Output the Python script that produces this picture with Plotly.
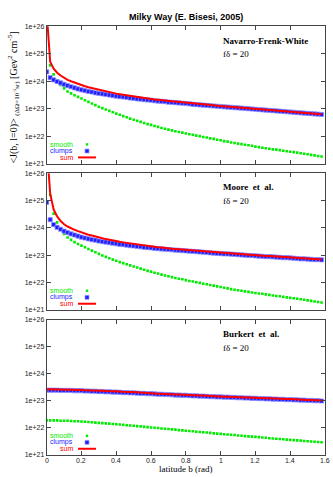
import plotly.graph_objects as go

W, H = 333, 477

# galactic latitude grid (rad)
b = [0.00, 0.02, 0.04, 0.06, 0.08, 0.10, 0.12, 0.14, 0.16, 0.18,
     0.20, 0.22, 0.24, 0.26, 0.28, 0.30, 0.32, 0.34, 0.36, 0.38,
     0.40, 0.42, 0.44, 0.46, 0.48, 0.50, 0.52, 0.54, 0.56, 0.58,
     0.60, 0.62, 0.64, 0.66, 0.68, 0.70, 0.72, 0.74, 0.76, 0.78,
     0.80, 0.82, 0.84, 0.86, 0.88, 0.90, 0.92, 0.94, 0.96, 0.98,
     1.00, 1.02, 1.04, 1.06, 1.08, 1.10, 1.12, 1.14, 1.16, 1.18,
     1.20, 1.22, 1.24, 1.26, 1.28, 1.30, 1.32, 1.34, 1.36, 1.38,
     1.40, 1.42, 1.44, 1.46, 1.48, 1.50, 1.52, 1.54, 1.56, 1.58]

# log10 of <J> (None = above the frame)
nfw_smooth_log = [None, 24.58, 24.25, 24.03, 23.87, 23.74, 23.63, 23.56, 23.49, 23.43,
                  23.37, 23.31, 23.25, 23.19, 23.13, 23.07, 23.02, 22.97, 22.92, 22.87,
                  22.82, 22.78, 22.73, 22.69, 22.64, 22.60, 22.56, 22.52, 22.48, 22.44,
                  22.41, 22.37, 22.34, 22.30, 22.27, 22.24, 22.21, 22.18, 22.15, 22.13,
                  22.10, 22.07, 22.05, 22.02, 22.00, 21.97, 21.95, 21.92, 21.90, 21.87,
                  21.85, 21.82, 21.80, 21.77, 21.75, 21.73, 21.71, 21.69, 21.67, 21.65,
                  21.62, 21.60, 21.58, 21.56, 21.54, 21.52, 21.51, 21.49, 21.47, 21.45,
                  21.43, 21.42, 21.40, 21.38, 21.36, 21.34, 21.32, 21.30, 21.28, 21.26]
nfw_clumps_log = [24.34, 24.13, 24.05, 23.99, 23.94, 23.89, 23.84, 23.80, 23.76, 23.72,
                  23.69, 23.66, 23.63, 23.61, 23.58, 23.56, 23.54, 23.52, 23.50, 23.48,
                  23.46, 23.44, 23.43, 23.41, 23.39, 23.38, 23.36, 23.35, 23.33, 23.32,
                  23.31, 23.29, 23.28, 23.27, 23.26, 23.24, 23.23, 23.22, 23.21, 23.20,
                  23.19, 23.18, 23.16, 23.15, 23.14, 23.13, 23.12, 23.11, 23.10, 23.09,
                  23.08, 23.07, 23.06, 23.05, 23.04, 23.03, 23.02, 23.01, 23.00, 22.99,
                  22.98, 22.97, 22.96, 22.95, 22.94, 22.93, 22.92, 22.91, 22.90, 22.89,
                  22.88, 22.87, 22.86, 22.85, 22.84, 22.83, 22.82, 22.81, 22.80, 22.79]
nfw_sum_log = [26.50, 24.71, 24.46, 24.31, 24.21, 24.12, 24.05, 24.00, 23.95, 23.90,
               23.86, 23.82, 23.78, 23.75, 23.71, 23.68, 23.66, 23.63, 23.60, 23.58,
               23.55, 23.53, 23.51, 23.49, 23.46, 23.45, 23.42, 23.41, 23.39, 23.37,
               23.36, 23.34, 23.33, 23.31, 23.30, 23.28, 23.27, 23.26, 23.25, 23.23,
               23.22, 23.21, 23.19, 23.18, 23.17, 23.16, 23.15, 23.14, 23.13, 23.11,
               23.10, 23.09, 23.08, 23.07, 23.06, 23.05, 23.04, 23.03, 23.02, 23.01,
               23.00, 22.99, 22.98, 22.97, 22.96, 22.95, 22.94, 22.93, 22.91, 22.91,
               22.90, 22.89, 22.87, 22.87, 22.85, 22.85, 22.83, 22.82, 22.81, 22.80]

moore_smooth_log = [None, 25.20, 24.52, 24.20, 23.94, 23.78, 23.65, 23.56, 23.48, 23.41,
                    23.35, 23.29, 23.23, 23.17, 23.11, 23.05, 22.99, 22.94, 22.89, 22.84,
                    22.80, 22.75, 22.71, 22.67, 22.63, 22.59, 22.55, 22.51, 22.47, 22.43,
                    22.40, 22.36, 22.33, 22.29, 22.26, 22.23, 22.20, 22.17, 22.14, 22.12,
                    22.09, 22.06, 22.04, 22.01, 21.99, 21.96, 21.94, 21.91, 21.89, 21.86,
                    21.84, 21.81, 21.79, 21.76, 21.74, 21.72, 21.70, 21.68, 21.66, 21.64,
                    21.62, 21.60, 21.59, 21.57, 21.55, 21.53, 21.51, 21.50, 21.48, 21.46,
                    21.44, 21.43, 21.41, 21.39, 21.37, 21.35, 21.33, 21.31, 21.29, 21.27]
moore_clumps_log = [24.93, 24.30, 24.12, 24.02, 23.95, 23.88, 23.83, 23.78, 23.74, 23.70,
                    23.66, 23.63, 23.60, 23.57, 23.55, 23.52, 23.50, 23.48, 23.46, 23.44,
                    23.42, 23.40, 23.39, 23.37, 23.35, 23.34, 23.32, 23.31, 23.29, 23.28,
                    23.27, 23.25, 23.24, 23.23, 23.22, 23.21, 23.20, 23.19, 23.18, 23.17,
                    23.16, 23.15, 23.14, 23.13, 23.12, 23.11, 23.10, 23.09, 23.08, 23.07,
                    23.06, 23.05, 23.05, 23.04, 23.03, 23.02, 23.01, 23.00, 22.99, 22.99,
                    22.98, 22.97, 22.96, 22.95, 22.95, 22.94, 22.93, 22.92, 22.91, 22.91,
                    22.90, 22.89, 22.88, 22.87, 22.87, 22.86, 22.85, 22.84, 22.84, 22.83]
moore_sum_log = [27.00, 25.25, 24.67, 24.42, 24.25, 24.13, 24.05, 23.98, 23.93, 23.88,
                 23.83, 23.79, 23.75, 23.72, 23.68, 23.65, 23.62, 23.59, 23.56, 23.54,
                 23.51, 23.49, 23.47, 23.45, 23.43, 23.41, 23.39, 23.37, 23.35, 23.34,
                 23.32, 23.30, 23.29, 23.28, 23.26, 23.25, 23.24, 23.23, 23.22, 23.21,
                 23.20, 23.18, 23.17, 23.16, 23.15, 23.14, 23.13, 23.12, 23.11, 23.09,
                 23.09, 23.07, 23.07, 23.06, 23.05, 23.04, 23.03, 23.02, 23.01, 23.01,
                 23.00, 22.99, 22.98, 22.97, 22.97, 22.96, 22.95, 22.94, 22.93, 22.92,
                 22.91, 22.91, 22.90, 22.88, 22.88, 22.87, 22.86, 22.85, 22.85, 22.84]

burkert_smooth_log = [22.28, 22.28, 22.28, 22.28, 22.27, 22.27, 22.27, 22.26, 22.25, 22.25,
                      22.24, 22.23, 22.22, 22.21, 22.20, 22.19, 22.18, 22.17, 22.16, 22.15,
                      22.14, 22.13, 22.12, 22.10, 22.09, 22.08, 22.07, 22.06, 22.04, 22.03,
                      22.02, 22.01, 22.00, 21.98, 21.97, 21.96, 21.95, 21.94, 21.92, 21.91,
                      21.90, 21.89, 21.88, 21.86, 21.85, 21.84, 21.83, 21.82, 21.80, 21.79,
                      21.78, 21.77, 21.76, 21.75, 21.74, 21.72, 21.71, 21.70, 21.69, 21.68,
                      21.67, 21.66, 21.65, 21.64, 21.62, 21.61, 21.60, 21.59, 21.58, 21.57,
                      21.56, 21.55, 21.54, 21.53, 21.52, 21.51, 21.50, 21.49, 21.48, 21.47]
burkert_clumps_log = [23.40, 23.40, 23.40, 23.40, 23.39, 23.39, 23.39, 23.39, 23.38, 23.38,
                      23.38, 23.37, 23.37, 23.36, 23.36, 23.35, 23.35, 23.34, 23.34, 23.33,
                      23.33, 23.32, 23.31, 23.31, 23.30, 23.30, 23.29, 23.28, 23.28, 23.27,
                      23.27, 23.26, 23.25, 23.25, 23.24, 23.24, 23.23, 23.22, 23.22, 23.21,
                      23.21, 23.20, 23.19, 23.19, 23.18, 23.18, 23.17, 23.16, 23.16, 23.15,
                      23.15, 23.14, 23.14, 23.13, 23.13, 23.12, 23.12, 23.11, 23.11, 23.10,
                      23.10, 23.09, 23.09, 23.08, 23.08, 23.07, 23.07, 23.06, 23.06, 23.05,
                      23.05, 23.04, 23.04, 23.03, 23.03, 23.02, 23.02, 23.01, 23.01, 23.00]
burkert_sum_log = [23.43, 23.43, 23.43, 23.43, 23.42, 23.42, 23.42, 23.42, 23.41, 23.41,
                   23.41, 23.40, 23.40, 23.39, 23.39, 23.38, 23.38, 23.37, 23.37, 23.36,
                   23.36, 23.35, 23.34, 23.34, 23.33, 23.33, 23.32, 23.31, 23.31, 23.30,
                   23.29, 23.28, 23.27, 23.27, 23.26, 23.26, 23.25, 23.24, 23.24, 23.23,
                   23.23, 23.22, 23.21, 23.21, 23.20, 23.20, 23.19, 23.18, 23.18, 23.17,
                   23.17, 23.16, 23.16, 23.15, 23.15, 23.14, 23.14, 23.13, 23.13, 23.12,
                   23.12, 23.11, 23.11, 23.10, 23.10, 23.09, 23.09, 23.08, 23.08, 23.07,
                   23.07, 23.06, 23.06, 23.05, 23.05, 23.04, 23.04, 23.03, 23.03, 23.02]

model_names = ['Navarro-Frenk-White', 'Moore\u00a0 et\u00a0 al.', 'Burkert\u00a0 et\u00a0 al.']
y_ticks = [1e21, 1e22, 1e23, 1e24, 1e25, 1e26]
y_ticktext = ['1e+21', '1e+22', '1e+23', '1e+24', '1e+25', '1e+26']
x_ticks = [0, 0.2, 0.4, 0.6, 0.8, 1.0, 1.2, 1.4, 1.6]
x_ticktext = ['0', '0.2', '0.4', '0.6', '0.8', '1', '1.2', '1.4', '1.6']

GREEN = 'rgb(0,235,0)'
BLUE = 'rgb(30,30,255)'
RED = 'rgb(255,0,0)'
FRAME = '#444444'
SANS = 'Liberation Sans'
SERIF = 'Liberation Serif'


def px(x):
    return x / W


def py(y):
    return 1 - y / H


def unlog(vals):
    return [None if v is None else 10 ** v for v in vals]


# plot frames in pixels (top, bottom)
x_left, x_right = 46.7, 325.0
frames = [(22.7, 162.0), (171.7, 310.5), (320.7, 457.7)]
series = [
    (nfw_smooth_log, nfw_clumps_log, nfw_sum_log),
    (moore_smooth_log, moore_clumps_log, moore_sum_log),
    (burkert_smooth_log, burkert_clumps_log, burkert_sum_log),
]

fig = go.Figure()
shapes = []
annotations = []
layout_axes = {}

for i, ((top, bot), (sm, cl, su), name) in enumerate(zip(frames, series, model_names)):
    n = '' if i == 0 else str(i + 1)
    xa, ya = 'x' + n, 'y' + n

    fig.add_trace(go.Scatter(
        x=b, y=unlog(sm), xaxis=xa, yaxis=ya, mode='markers',
        marker=dict(symbol='square', size=2.6, color=GREEN, line=dict(width=0)),
        showlegend=False
    ))
    fig.add_trace(go.Scatter(
        x=b, y=unlog(cl), xaxis=xa, yaxis=ya, mode='markers',
        marker=dict(symbol='square', size=4.2, color=BLUE,
                    line=dict(width=1, color='rgba(150,150,255,0.75)')),
        showlegend=False
    ))
    fig.add_trace(go.Scatter(
        x=b, y=unlog(su), xaxis=xa, yaxis=ya, mode='lines',
        line=dict(color=RED, width=2),
        showlegend=False
    ))

    layout_axes['xaxis' + n] = dict(
        domain=[px(x_left), px(x_right)], range=[0, 1.6], anchor=ya,
        tickvals=x_ticks, showticklabels=False,
        ticks='inside', ticklen=4, tickwidth=1,
        tickcolor=FRAME, mirror='allticks', showline=True, linecolor=FRAME,
        linewidth=1, showgrid=False, zeroline=False
    )
    layout_axes['yaxis' + n] = dict(
        domain=[py(bot), py(top)], type='log', range=[21, 26], anchor=xa,
        tickvals=y_ticks, ticktext=y_ticktext,
        ticks='inside', ticklen=4, tickwidth=1, tickcolor=FRAME,
        mirror='allticks', showline=True, linecolor=FRAME, linewidth=1,
        showgrid=False, zeroline=False,
        tickfont=dict(family=SANS, size=7, color='#222222')
    )

    # model label
    annotations.append(dict(
        x=px(221), y=py(top + 14.5), xref='paper', yref='paper',
        text='<b>%s</b>' % name, showarrow=False, xanchor='left', yanchor='middle',
        font=dict(family=SERIF, size=9, color='black')
    ))
    annotations.append(dict(
        x=px(221), y=py(top + 28.5), xref='paper', yref='paper',
        text='f\u03b4 = 20', showarrow=False, xanchor='left', yanchor='middle',
        font=dict(family=SERIF, size=9, color='black')
    ))

    # gnuplot-style key: text then sample
    for label, color, dy in [('smooth', GREEN, 19.5), ('clumps', BLUE, 12.8), ('sum', RED, 6.3)]:
        annotations.append(dict(
            x=px(74.5), y=py(bot - dy), xref='paper', yref='paper',
            text=label, showarrow=False, xanchor='right', yanchor='middle',
            font=dict(family=SANS, size=7, color=color)
        ))
    yc = bot - 19.5
    shapes.append(dict(type='rect', xref='paper', yref='paper',
                       x0=px(85.8), x1=px(88.2), y0=py(yc + 1.2), y1=py(yc - 1.2),
                       fillcolor=GREEN, line=dict(width=0)))
    yc = bot - 12.8
    shapes.append(dict(type='rect', xref='paper', yref='paper',
                       x0=px(85), x1=px(89), y0=py(yc + 2), y1=py(yc - 2),
                       fillcolor=BLUE, line=dict(width=1, color='rgba(150,150,255,0.75)')))
    yc = bot - 6.3
    shapes.append(dict(type='line', xref='paper', yref='paper',
                       x0=px(78), x1=px(96), y0=py(yc), y1=py(yc),
                       line=dict(color=RED, width=2)))

# x tick labels of the bottom panel, placed on its data scale
for v, t in zip(x_ticks, x_ticktext):
    annotations.append(dict(
        x=v, xref='x3', y=py(463.3), yref='paper', text=t, showarrow=False,
        xanchor='center', yanchor='middle',
        font=dict(family=SANS, size=7, color='#222222')
    ))

annotations.append(dict(
    x=px(186), y=py(13), xref='paper', yref='paper',
    text='<b>Milky Way (E. Bisesi, 2005)</b>', showarrow=False,
    xanchor='center', yanchor='middle',
    font=dict(family=SANS, size=9, color='black')
))
annotations.append(dict(
    x=px(13), y=py(95), xref='paper', yref='paper', textangle=-90,
    text='&lt;J(b, l=0)&gt; <sub>(\u0394\u03a9=10<sup>-5</sup>sr)</sub> [Gev<sup>2</sup> cm<sup>-5</sup>]',
    showarrow=False, xanchor='center', yanchor='middle',
    font=dict(family=SERIF, size=10, color='black')
))
annotations.append(dict(
    x=px(185), y=py(472), xref='paper', yref='paper',
    text='latitude b (rad)', showarrow=False, xanchor='center', yanchor='middle',
    font=dict(family=SERIF, size=9, color='black')
))

fig.update_layout(
    width=W, height=H, autosize=False,
    margin=dict(l=0, r=0, t=0, b=0),
    paper_bgcolor='white', plot_bgcolor='white',
    shapes=shapes, annotations=annotations,
    **layout_axes
)

# the page's default body margin would shift the whole figure by 8px
fig.write_html('out.html', config={'displayModeBar': False},
               post_script="document.body.style.margin = '0';")
